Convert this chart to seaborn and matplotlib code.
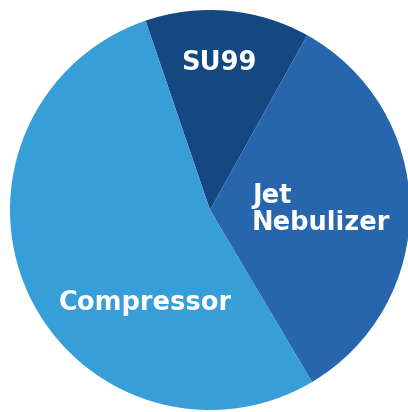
import matplotlib
matplotlib.use("Agg")
import matplotlib.pyplot as plt
import seaborn as sns

# share of each device
devices = ["SU99", "Jet\nNebulizer", "Compressor"]
shares = [13.3, 33.4, 53.3]
colors = ["#154880", "#2766ac", "#389ed8"]

sns.set_style("white")
plt.rcParams["font.family"] = ["DejaVu Sans"]

fig = plt.figure(figsize=(4.08, 4.12), dpi=100)
ax = fig.add_axes([10 / 408, 2 / 412, 400 / 408, 400 / 412])

wedges, _ = ax.pie(shares, colors=sns.color_palette(colors), startangle=108.8,
                   counterclock=False, radius=1.0,
                   wedgeprops=dict(linewidth=0, edgecolor="none"))

# label placement (data coords, pie radius = 1)
label_pos = [(0.045, 0.70, "center"), (0.21, -0.0975, "left"), (-0.3225, -0.4975, "center")]
for name, (x, y, ha) in zip(devices, label_pos):
    ax.text(x, y, name, color="white", fontsize=18.5, fontweight="bold",
            ha=ha, va="baseline", linespacing=1.04)

ax.set_xlim(-1, 1)
ax.set_ylim(-1, 1)
ax.set_aspect("equal")
ax.axis("off")

fig.savefig("out.png", dpi=100, facecolor="white")
